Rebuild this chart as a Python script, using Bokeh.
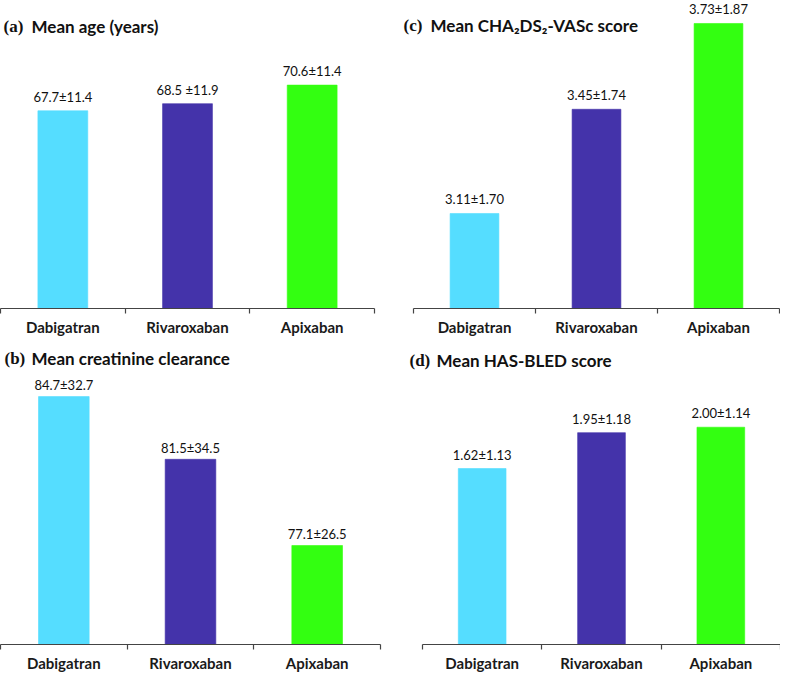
from bokeh.plotting import figure
from bokeh.models import Range1d, FixedTicker, ColumnDataSource, LabelSet, Label
from bokeh.core.properties import value
from bokeh.layouts import row, column
from bokeh.embed import file_html
from bokeh.resources import INLINE

drugs = ["Dabigatran", "Rivaroxaban", "Apixaban"]
colors = ["#55DDFF", "#4433AA", "#33FF11"]

age_mean = [67.7, 68.5, 70.6]
age_labels = ["67.7±11.4", "68.5 ±11.9", "70.6±11.4"]
crcl_mean = [84.7, 81.5, 77.1]
crcl_labels = ["84.7±32.7", "81.5±34.5", "77.1±26.5"]
cha_mean = [3.11, 3.45, 3.73]
cha_labels = ["3.11±1.70", "3.45±1.74", "3.73±1.87"]
has_mean = [1.62, 1.95, 2.00]
has_labels = ["1.62±1.13", "1.95±1.18", "2.00±1.14"]

SANS = "Lato"
SERIF = "Liberation Serif"


def panel(values, labels, tag, title, width, height, ax_left, ax_right, mbb,
          y0, y1, lab_off, tag_dx, txt_dx, ty):
    # ax_left / ax_right: pixel extent of the category axis inside the figure
    n = len(drugs)
    per_px = n / (ax_right - ax_left)
    x_start = -ax_left * per_px
    x_end = n + (width - ax_right) * per_px
    frame_h = height - mbb
    p = figure(width=width, height=height, output_backend="svg",
               toolbar_location=None, x_range=Range1d(x_start, x_end),
               y_range=Range1d(y0, y1), min_border_left=0,
               min_border_right=0, min_border_top=0, min_border_bottom=mbb,
               y_axis_location=None)
    p.outline_line_color = None
    p.grid.visible = False
    p.background_fill_color = "white"
    p.border_fill_color = "white"

    src = ColumnDataSource(dict(
        x=[i + 0.5 for i in range(n)],
        top=values, label=labels, color=colors))
    p.vbar(x="x", top="top", bottom=y0, width=0.4, fill_color="color",
           line_color="color", line_alpha=0.6, source=src)
    p.add_layout(LabelSet(x="x", y="top", text="label", source=src,
                          y_offset=lab_off, text_align="center",
                          text_baseline="middle", text_font=value(SANS),
                          text_font_size=value("13px"),
                          text_color=value("#111111")))

    ax = p.xaxis[0]
    ax.bounds = (0, n)
    ax.ticker = FixedTicker(ticks=[i + 0.5 for i in range(n)],
                            minor_ticks=list(range(n + 1)))
    ax.major_label_overrides = {i + 0.5: d for i, d in enumerate(drugs)}
    ax.major_tick_out = 0
    ax.major_tick_in = 0
    ax.minor_tick_out = 5
    ax.minor_tick_in = 0
    ax.minor_tick_line_color = "#444444"
    ax.minor_tick_line_width = 1.2
    ax.axis_line_color = "#444444"
    ax.axis_line_width = 1.2
    ax.major_label_standoff = 4
    ax.major_label_text_font = SANS
    ax.major_label_text_font_style = "bold"
    ax.major_label_text_font_size = "15px"
    ax.major_label_text_color = "#1a1a1a"

    def dx(px):
        return x_start + px * per_px

    def dy(py):
        return y1 - py / frame_h * (y1 - y0)

    p.add_layout(Label(x=dx(tag_dx), y=dy(ty), text=tag, text_font=SERIF,
                       text_font_style="bold", text_font_size="17px",
                       text_baseline="middle", text_align="left",
                       text_color="#111111"))
    p.add_layout(Label(x=dx(txt_dx), y=dy(ty), text=title, text_font=SANS,
                       text_font_style="bold", text_font_size="17px",
                       text_baseline="middle", text_align="left",
                       text_color="#111111"))
    return p


pa = panel(age_mean, age_labels, "(a)", "Mean age (years)",
           400, 342, 0, 374, 34, 45.36, 80.16, 14, 3, 31, 26)
pc = panel(cha_mean, cha_labels, "(c)", "Mean CHA\u2082DS\u2082-VASc score",
           380, 342, 13, 379, 34, 2.80, 3.805, 14, 3, 30, 25)
pb = panel(crcl_mean, crcl_labels, "(b)", "Mean creatinine clearance",
           400, 332, 0, 380, 30, 72.05, 87.46, 11.5, 4, 31, 16)
pd_ = panel(has_mean, has_labels, "(d)", "Mean HAS-BLED score",
            380, 332, 22, 380, 27, 0.0, 2.78, 14, 9, 36, 18)

layout = column(row(pa, pc), row(pb, pd_))
open("out.html", "w").write(file_html(layout, INLINE))
